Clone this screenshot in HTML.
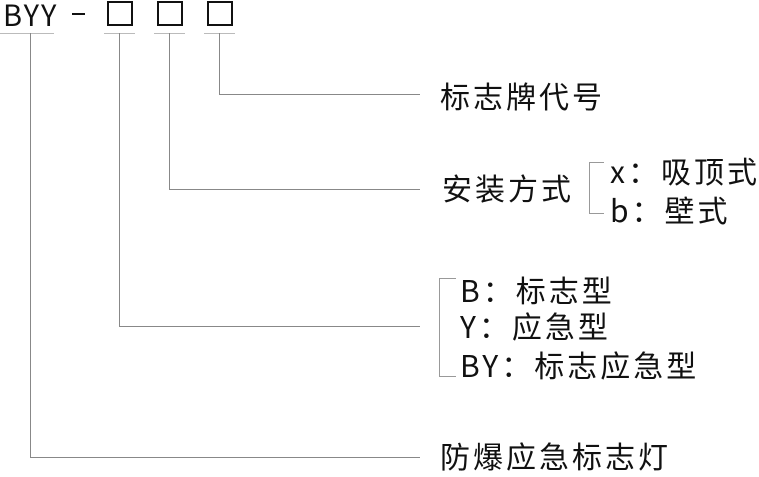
<!DOCTYPE html>
<html><head><meta charset="utf-8"><style>
body{margin:0;width:759px;height:471px;background:#fff;position:relative;overflow:hidden;font-family:"Liberation Sans","Noto Sans CJK SC",sans-serif;color:#111}
.t{position:absolute;white-space:nowrap;line-height:1;font-size:30px;letter-spacing:3px;font-family:"Noto Sans CJK SC","Liberation Sans",sans-serif}
.l{position:absolute;background:#888}
.b{position:absolute;border:2px solid #111;box-sizing:border-box;width:26px;height:25px}
</style></head><body>
<div class="t" style="left:3px;top:0px;font-size:29px;letter-spacing:2px">BYY</div>
<div class="l" style="left:72px;top:13px;width:13px;height:2px;background:#111"></div>
<div class="b" style="left:107px;top:1px"></div>
<div class="b" style="left:157px;top:1px"></div>
<div class="b" style="left:207px;top:1px"></div>
<div class="l" style="left:0;top:33px;width:54px;height:1px;background:#bbb"></div>
<div class="l" style="left:104px;top:33px;width:31px;height:1px;background:#bbb"></div>
<div class="l" style="left:154px;top:33px;width:31px;height:1px;background:#bbb"></div>
<div class="l" style="left:204px;top:33px;width:31px;height:1px;background:#bbb"></div>
<div class="l" style="left:30px;top:33px;width:1px;height:425px"></div>
<div class="l" style="left:30px;top:457px;width:390px;height:1px"></div>
<div class="l" style="left:119px;top:33px;width:1px;height:294px"></div>
<div class="l" style="left:119px;top:326px;width:301px;height:1px"></div>
<div class="l" style="left:169px;top:33px;width:1px;height:157px"></div>
<div class="l" style="left:169px;top:189px;width:251px;height:1px"></div>
<div class="l" style="left:219px;top:33px;width:1px;height:62px"></div>
<div class="l" style="left:219px;top:94px;width:201px;height:1px"></div>
<div class="t" style="left:440px;top:80px">标志牌代号</div>
<div class="t" style="left:442px;top:172px">安装方式</div>
<div style="position:absolute;left:589px;top:162px;width:14px;height:50px;border:1px solid #999;border-right:none"></div>
<div class="t" style="left:610px;top:155px">x：吸顶式</div>
<div class="t" style="left:610px;top:194px">b：壁式</div>
<div style="position:absolute;left:439px;top:278px;width:16px;height:97px;border:1px solid #999;border-right:none"></div>
<div class="t" style="left:460px;top:274px">B：标志型</div>
<div class="t" style="left:460px;top:310px">Y：应急型</div>
<div class="t" style="left:460px;top:349px">BY：标志应急型</div>
<div class="t" style="left:440px;top:440px">防爆应急标志灯</div>
</body></html>
